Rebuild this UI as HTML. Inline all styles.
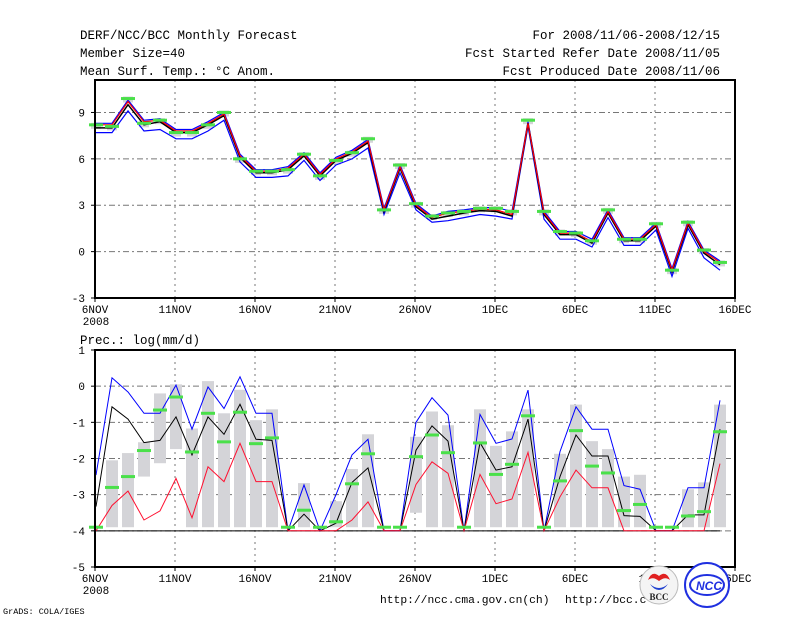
<!DOCTYPE html>
<html><head><meta charset="utf-8"><style>
html,body{margin:0;padding:0;background:#fff;}
svg{display:block;font-family:"Liberation Mono",monospace;}
</style></head><body>
<svg id="c" width="800" height="618" viewBox="0 0 800 618" xmlns="http://www.w3.org/2000/svg">
<rect x="0" y="0" width="800" height="618" fill="#fff"/>
<g font-size="12.5" fill="#000">
<text x="80" y="39">DERF/NCC/BCC Monthly Forecast</text>
<text x="80" y="57">Member Size=40</text>
<text x="80" y="75">Mean Surf. Temp.: °C Anom.</text>
<text x="720" y="39" text-anchor="end">For 2008/11/06-2008/12/15</text>
<text x="720" y="57" text-anchor="end">Fcst Started Refer Date 2008/11/05</text>
<text x="720" y="75" text-anchor="end">Fcst Produced Date 2008/11/06</text>
<text x="80" y="344">Prec.: log(mm/d)</text>
<text x="380" y="603" font-size="11.3">http://ncc.cma.gov.cn(ch)</text>
<text x="565" y="603" font-size="11.3">http://bcc.c</text>
<text x="3" y="614" font-size="8.5">GrADS: COLA/IGES</text>
</g>
<g id="top"></g>
<g id="bot"></g>
<g>
<circle cx="659" cy="585" r="19" fill="#f4f4f4" stroke="#bbb"/>
<path d="M648 580 q4 -10 11 -4 q7 -6 11 4 q-5 -4 -11 1 q-6 -5 -11 -1z" fill="#e02020"/>
<path d="M650 584 q9 8 18 0 q-4 6 -9 6 q-5 0 -9 -6z" fill="#2040d0"/>
<text x="659" y="600" font-size="9" font-weight="bold" text-anchor="middle" fill="#222" font-family="Liberation Serif,serif">BCC</text>
</g>
<g>
<circle cx="707" cy="585" r="22" fill="#fff" stroke="#2030e0" stroke-width="2"/>
<ellipse cx="707" cy="585" rx="17" ry="10" fill="none" stroke="#2030e0" stroke-width="2"/>
<text x="709" y="590" font-size="12" font-weight="bold" font-style="italic" text-anchor="middle" fill="#2030e0" font-family="Liberation Sans,sans-serif">NCC</text>
</g>
</svg>
<script>
// ---------- data ----------
const days = ["6NOV","11NOV","16NOV","21NOV","26NOV","1DEC","6DEC","11DEC","16DEC"];
const tMean = [8.0,8.0,9.5,8.2,8.4,7.7,7.7,8.2,8.8,6.1,5.1,5.1,5.3,6.2,4.9,5.9,6.35,7.05,2.6,5.4,2.9,2.1,2.3,2.5,2.65,2.6,2.3,8.3,2.4,1.1,1.1,0.55,2.5,0.7,0.7,1.65,-1.3,1.75,-0.1,-0.85];
const tRed  = [8.2,8.2,9.7,8.4,8.5,7.8,7.8,8.3,8.9,6.2,5.2,5.2,5.4,6.3,5.0,6.0,6.45,7.15,2.7,5.5,3.0,2.2,2.5,2.6,2.75,2.7,2.4,8.3,2.5,1.2,1.2,0.65,2.6,0.8,0.8,1.75,-1.2,1.85,0.0,-0.7];
const tHi   = [8.3,8.3,9.8,8.5,8.6,7.9,7.9,8.4,9.0,6.3,5.3,5.3,5.5,6.4,5.1,6.1,6.55,7.25,2.8,5.6,3.1,2.3,2.6,2.7,2.85,2.85,2.6,8.4,2.6,1.3,1.3,0.8,2.7,0.9,0.9,1.85,-1.1,1.95,0.1,-0.6];
const tLo   = [7.7,7.7,9.1,7.8,7.9,7.3,7.3,7.8,8.5,5.8,4.8,4.8,4.9,5.9,4.6,5.6,6.0,6.7,2.4,5.1,2.7,1.9,2.0,2.2,2.4,2.3,2.1,8.1,2.1,0.8,0.8,0.3,2.2,0.4,0.4,1.4,-1.6,1.5,-0.4,-1.2];
const tObs  = [8.2,8.1,9.9,8.3,8.5,7.7,7.7,8.2,9.0,6.0,5.2,5.2,5.3,6.3,4.9,5.9,6.4,7.3,2.7,5.6,3.1,2.3,2.5,2.6,2.8,2.8,2.6,8.5,2.6,1.3,1.2,0.7,2.7,0.8,0.8,1.8,-1.2,1.9,0.1,-0.7];
const tTicks = [-3,0,3,6,9];

const pHi  = [-2.46,0.23,-0.16,-0.75,-0.75,0.03,-1.19,-0.02,-0.62,0.26,-0.75,-0.75,-4,-2.73,-4,-3.0,-1.9,-1.47,-4,-4,-1.0,-0.32,-0.8,-4,-0.78,-1.58,-1.46,-0.11,-4,-1.81,-0.57,-1.19,-1.19,-2.75,-2.85,-4,-4,-2.81,-2.81,-0.39];
const pMid = [-3.33,-0.57,-0.91,-1.56,-1.5,-0.85,-1.9,-0.85,-1.33,-0.5,-1.47,-1.5,-4,-3.54,-4,-3.79,-2.66,-2.26,-4,-4,-1.77,-1.1,-1.52,-4,-1.56,-2.32,-2.23,-0.91,-4,-2.5,-1.35,-1.93,-1.93,-3.58,-3.6,-4,-4,-3.56,-3.56,-1.19];
const pLo  = [-4,-3.3,-2.9,-3.7,-3.45,-2.55,-3.64,-2.23,-2.64,-1.58,-2.64,-2.64,-4,-4,-4,-4,-3.7,-3.2,-4,-4,-2.72,-2.09,-2.41,-4,-2.44,-3.25,-3.12,-1.83,-4,-3.06,-2.32,-2.81,-2.81,-4,-4,-4,-4,-4,-4,-2.14];
const pObs = [-3.9,-2.8,-2.5,-1.78,-0.66,-0.3,-1.82,-0.75,-1.54,-0.72,-1.59,-1.43,-3.9,-3.43,-3.9,-3.75,-2.7,-1.87,-3.9,-3.9,-1.95,-1.35,-1.84,-3.9,-1.57,-2.44,-2.16,-0.82,-3.9,-2.62,-1.23,-2.21,-2.4,-3.44,-3.27,-3.9,-3.9,-3.59,-3.47,-1.26];
const barTop = [null,-2.05,-1.85,-1.55,-0.2,0.05,-1.17,0.14,-0.75,-0.1,-0.94,-0.64,null,-2.68,null,-3.18,-2.29,-1.33,null,null,-1.4,-0.7,-1.08,null,-0.64,-1.65,-1.25,-0.64,null,-1.87,-0.51,-1.52,-1.74,-2.5,-2.45,null,null,-2.85,-2.66,-0.51];
const barBot = [null,-3.9,-3.9,-2.5,-2.13,-1.74,-3.9,-3.9,-3.9,-3.9,-3.9,-3.9,null,-3.9,null,-3.9,-3.9,-3.9,null,null,-3.5,-3.9,-3.9,null,-3.9,-3.9,-3.9,-3.9,null,-3.9,-3.9,-3.9,-3.9,-3.9,-3.9,null,null,-3.9,-3.9,-3.9];
const pTicks = [-5,-4,-3,-2,-1,0,1];

// ---------- drawing ----------
const NS="http://www.w3.org/2000/svg";
const X0=95,X1=735;
const xDay=i=>X0+1+16*i;
function el(p,tag,a){const e=document.createElementNS(NS,tag);for(const k in a)e.setAttribute(k,a[k]);p.appendChild(e);return e;}
function panel(g,Y0,Y1,vmin,vmax,ticks){
  const y=v=>Y1-(v-vmin)/(vmax-vmin)*(Y1-Y0);
  days.forEach((d,k)=>{
    const x=X0+80*k;
    if(k>0&&k<days.length-1){const l=el(g,'line',{x1:x,x2:x,y1:Y0,y2:Y1,stroke:'#777','stroke-dasharray':'2,4'});
      
      }
    el(g,'line',{x1:x,x2:x,y1:Y1,y2:Y1+4,stroke:'#000'});
    const t=el(g,'text',{x:x,y:Y1+15,'font-size':11,'text-anchor':'middle'});t.textContent=d;
    
    
  });
  const t2=el(g,'text',{x:X0+1,y:Y1+27,'font-size':11,'text-anchor':'middle'});t2.textContent='2008';
  
  
  ticks.forEach(v=>{
    const yy=y(v);
    if(v>vmin){const l=el(g,'line',{x1:X0,x2:X1,y1:yy,y2:yy,stroke:'#777','stroke-dasharray':'6,3,2,3'});
      
      }
    el(g,'line',{x1:X0-4,x2:X0,y1:yy,y2:yy,stroke:'#000'});
    const t=el(g,'text',{x:X0-10,y:yy+4,'font-size':11,'text-anchor':'end'});t.textContent=v;
    
    
  });
  return y;
}
function line(g,arr,y,color,w,name){
  const pts=arr.map((v,i)=>xDay(i)+','+y(v).toFixed(1)).join(' ');
  const p=el(g,'polyline',{points:pts,fill:'none',stroke:color,'stroke-width':w});
  
  
}
function obs(g,arr,y){
  arr.forEach((v,i)=>{
    const r=el(g,'rect',{x:xDay(i)-7,y:y(v)-1.5,width:14,height:3,fill:'#4ae04a'});
    
    
  });
}
function frame(g,Y0,Y1){
  const r=el(g,'rect',{x:X0,y:Y0,width:X1-X0,height:Y1-Y0,fill:'none',stroke:'#000','stroke-width':2});
  
  
}
// top panel
const gt=document.getElementById('top');
const yt=panel(gt,80,298,-3,11.1,tTicks);
tObs.forEach((v,i)=>{const r=el(gt,'rect',{x:xDay(i)-5,y:yt(v)-2,width:10,height:6,fill:'#d4d4d8'});
  
  });
line(gt,tHi,yt,'#0000ff',1.2,'upper-bound-line');
line(gt,tLo,yt,'#0000ff',1.2,'lower-bound-line');
line(gt,tMean,yt,'#000',1.5,'ensemble-mean-line');
line(gt,tRed,yt,'#ff0000',1.2,'median-line');
obs(gt,tObs,yt);
frame(gt,80,298);
// bottom panel
const gb=document.getElementById('bot');
const yb=panel(gb,350,567,-5,1,pTicks);
barTop.forEach((v,i)=>{
  if(v===null)return;
  const r=el(gb,'rect',{x:xDay(i)-6,y:yb(v),width:12,height:yb(barBot[i])-yb(v),fill:'#d4d4d8'});
  
  
});
const base=el(gb,'line',{x1:xDay(0),x2:xDay(39),y1:yb(-4),y2:yb(-4),stroke:'#000'});


line(gb,pHi,yb,'#0000ff',1,'upper-bound-line');
line(gb,pMid,yb,'#000',1,'ensemble-mean-line');
line(gb,pLo,yb,'#ff1030',1,'lower-bound-line');
obs(gb,pObs,yb);
frame(gb,350,567);
</script>
</body></html>
